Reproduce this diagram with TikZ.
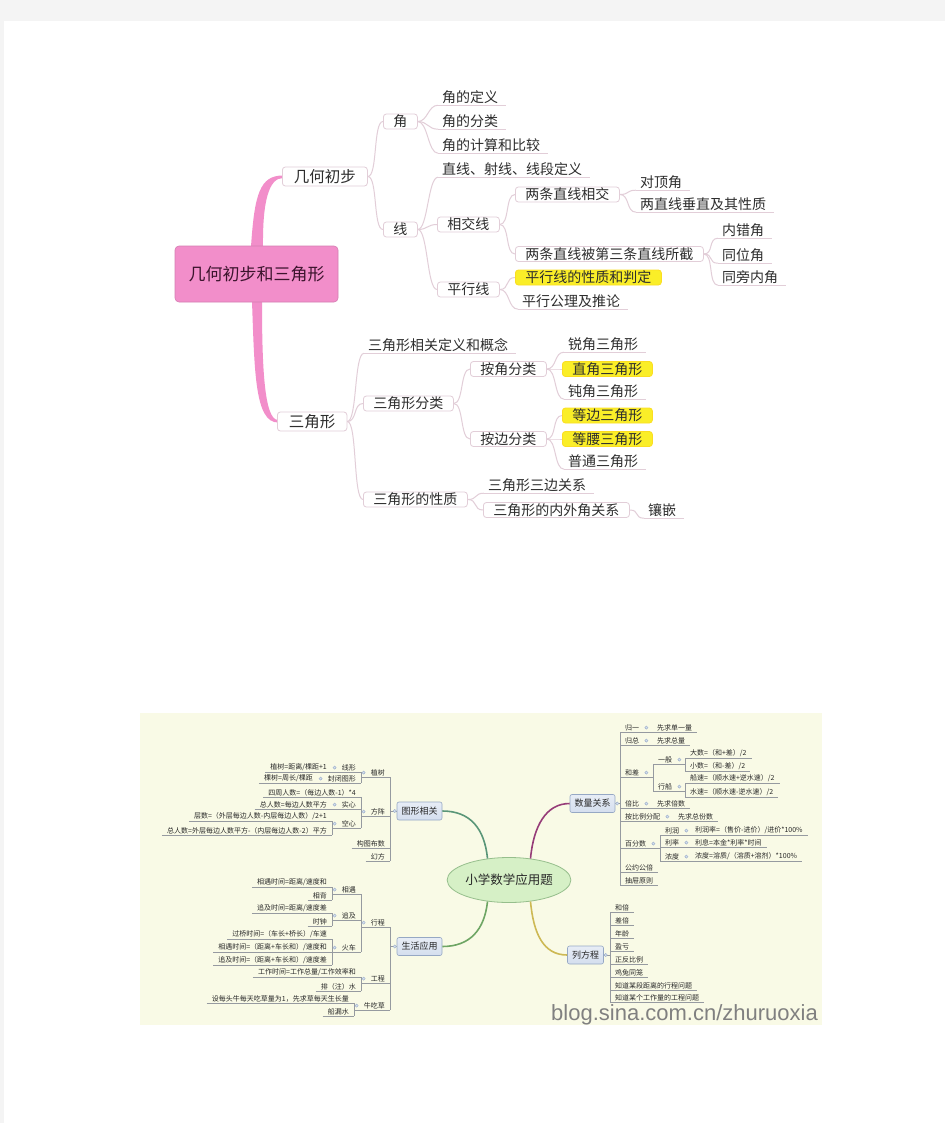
\documentclass[tikz,border=0pt]{standalone}
\usepackage{fontspec}
\setmainfont{Noto Sans CJK SC}
\newfontfamily\wmfont{Liberation Sans}
\usetikzlibrary{shapes.geometric,calc}

\definecolor{pagegray}{RGB}{244,244,244}
\definecolor{linkpink}{RGB}{226,206,216}
\definecolor{rootpink}{RGB}{242,142,202}
\definecolor{roottext}{RGB}{60,20,45}
\definecolor{hlyellow}{RGB}{250,238,40}
\definecolor{inktop}{RGB}{45,45,45}
\definecolor{cream}{RGB}{249,250,230}
\definecolor{hubgreen}{RGB}{214,240,198}
\definecolor{hubline}{RGB}{150,190,140}
\definecolor{boxblue}{RGB}{212,222,238}
\definecolor{boxline}{RGB}{150,168,196}
\definecolor{treegray}{RGB}{150,154,160}
\definecolor{knobfill}{RGB}{214,224,238}
\definecolor{knobline}{RGB}{150,170,200}
\definecolor{brteal}{RGB}{90,150,120}
\definecolor{brpurple}{RGB}{150,60,120}
\definecolor{brgreen}{RGB}{110,165,100}
\definecolor{brolive}{RGB}{205,185,85}
\definecolor{notetext}{RGB}{40,40,40}

\pgfdeclarelayer{paper}
\pgfdeclarelayer{background}
\pgfsetlayers{paper,background,main}

\tikzset{
  lnk/.style={draw=linkpink, line width=1pt},
  sbend/.style={to path={.. controls +(10,0) and +(-10,0) .. (\tikztotarget)}},
  rootbox/.style={draw=rootpink!88!black, fill=rootpink, rounded corners=4pt, line width=0.6pt,
    minimum width=163pt, minimum height=56pt, font=\fontsize{17}{20}\selectfont, text=roottext},
  tbox/.style={draw=linkpink, fill=white, rounded corners=3pt, line width=0.8pt,
    font=\fontsize{14}{16}\selectfont, text=inktop, inner xsep=10pt, inner ysep=0.5pt,
    minimum height=15pt, anchor=west},
  hbox/.style={tbox, fill=hlyellow, draw=hlyellow!85!orange},
  midbox/.style={tbox, font=\fontsize{15.5}{18}\selectfont, inner xsep=11.5pt, minimum height=19pt},
  leafnote/.style={font=\fontsize{14}{16}\selectfont, text=inktop, inner xsep=4pt, inner ysep=1.5pt,
    anchor=west, append after command={(\tikzlastnode.south west) edge[lnk] ([xshift=4pt]\tikzlastnode.south east)}},
  hubnode/.style={ellipse, draw=hubline, fill=hubgreen, line width=0.8pt, minimum width=122pt,
    minimum height=45pt, inner sep=0pt, font=\fontsize{12.5}{14}\selectfont, text=notetext},
  bbox/.style={draw=boxline, top color=white!45!boxblue, bottom color=boxblue, rounded corners=2pt,
    line width=0.6pt, font=\fontsize{9}{11}\selectfont, text=notetext, inner xsep=4.5pt,
    inner ysep=0pt, minimum height=18pt},
  mainbranch/.style={line width=1.6pt},
  treeline/.style={draw=treegray, line width=0.6pt},
  bnote/.style={font=\fontsize{7}{8}\selectfont, text=notetext, inner xsep=5pt, inner ysep=1pt},
  lnote/.style={bnote, anchor=south east,
    append after command={(\tikzlastnode.south west) edge[treeline] (\tikzlastnode.south east)}},
  rnote/.style={bnote, anchor=south west,
    append after command={(\tikzlastnode.south west) edge[treeline] (\tikzlastnode.south east)}},
  knob/.style={draw=knobline, fill=knobfill, line width=0.4pt},
  wmark/.style={font=\wmfont\fontsize{22}{24}\selectfont, text=gray, inner sep=0pt}
}

\begin{document}
\begin{tikzpicture}[x=1pt,y=-1pt]
\useasboundingbox (0,0) rectangle (945,1123);
\begin{pgfonlayer}{paper}
\fill[pagegray] (0,0) rectangle (945,1123);
\fill[white] (4,21) rectangle (945,1123);
\fill[cream] (140,713) rectangle (822,1025);
\end{pgfonlayer}

% ---------- 几何初步和三角形 ----------
\node[rootbox] (root) at (256.5,274) {几何初步和三角形};
\node[midbox] (geo) at (282,176.5) {几何初步};
\node[midbox] (tri) at (277,421.5) {三角形};

% 几何初步
\node[tbox] (jiao) at (383,121.5) {角};
\node[tbox] (xian) at (383,229.5) {线};
\node[leafnote] (jdy) at (438,97) {角的定义};
\node[leafnote] (jfl) at (438,121) {角的分类};
\node[leafnote] (jjs) at (438,145) {角的计算和比较};
\node[leafnote] (zxdy) at (438,169) {直线、射线、线段定义};
\node[tbox] (xjx) at (437,224.5) {相交线};
\node[tbox] (pxx) at (437,289.5) {平行线};
\node[tbox] (lzxj) at (515,194.5) {两条直线相交};
\node[tbox] (lzbj) at (515,254) {两条直线被第三条直线所截};
\node[hbox] (pxxz) at (515,277.5) {平行线的性质和判定};
\node[leafnote] (pxgl) at (518,301) {平行公理及推论};
\node[leafnote] (ddj) at (636,182) {对顶角};
\node[leafnote] (czxz) at (636,204) {两直线垂直及其性质};
\node[leafnote] (ncj) at (718,230) {内错角};
\node[leafnote] (twj) at (718,255) {同位角};
\node[leafnote] (tpnj) at (718,277) {同旁内角};

% 三角形
\node[leafnote] (sjdy) at (364,345) {三角形相关定义和概念};
\node[tbox] (sjfl) at (363,403.5) {三角形分类};
\node[tbox] (sjxz) at (363,499.5) {三角形的性质};
\node[tbox] (ajfl) at (470,369) {按角分类};
\node[tbox] (abfl) at (470,439) {按边分类};
\node[leafnote] (rjsj) at (564,344) {锐角三角形};
\node[hbox] (zjsj) at (562,369) {直角三角形};
\node[leafnote] (djsj) at (564,391) {钝角三角形};
\node[hbox] (dbsj) at (562,415.5) {等边三角形};
\node[hbox] (dysj) at (562,439) {等腰三角形};
\node[leafnote] (ptsj) at (564,461) {普通三角形};
\node[leafnote] (sbgx) at (484,485) {三角形三边关系};
\node[tbox] (nwj) at (483,510) {三角形的内外角关系};
\node[leafnote] (xq) at (644,510) {镶嵌};

\begin{pgfonlayer}{background}
% pink spine
\fill[rootpink] ($(root.north)+(-5.5,1)$) .. controls ($(root.north)+(-2,-52)$) and ($(geo.west)+(-22,-1)$) .. ($(geo.west)+(1,-1)$)
  -- ($(geo.west)+(1,1.5)$) .. controls ($(geo.west)+(-13,1.5)$) and ($(root.north)+(6,-45)$) .. ($(root.north)+(6.5,1)$) -- cycle;
\fill[rootpink] ($(root.south)+(-4.5,-1)$) .. controls ($(root.south)+(-2,70)$) and ($(tri.west)+(-22,1)$) .. ($(tri.west)+(1,1)$)
  -- ($(tri.west)+(1,-1.5)$) .. controls ($(tri.west)+(-13,-1.5)$) and ($(root.south)+(5.5,62)$) .. ($(root.south)+(5.5,-1)$) -- cycle;
\foreach \a/\b in {geo/jiao.west, geo/xian.west, jiao/jdy.south west, jiao/jfl.south west,
  jiao/jjs.south west, xian/zxdy.south west, xian/xjx.west, xian/pxx.west, xjx/lzxj.west,
  xjx/lzbj.west, lzxj/ddj.south west, lzxj/czxz.south west, lzbj/ncj.south west,
  lzbj/twj.south west, lzbj/tpnj.south west, pxx/pxxz.west, pxx/pxgl.south west,
  tri/sjdy.south west, tri/sjfl.west, tri/sjxz.west, sjfl/ajfl.west, sjfl/abfl.west,
  ajfl/rjsj.south west, ajfl/zjsj.west, ajfl/djsj.south west, abfl/dbsj.west,
  abfl/dysj.west, abfl/ptsj.south west, sjxz/sbgx.south west, sjxz/nwj.west, nwj/xq.south west}
  \draw[lnk] (\a.east) to[sbend] (\b);
\end{pgfonlayer}

% ---------- 小学数学应用题 ----------
\node[hubnode] (hub) at (509,880) {小学数学应用题};
\node[bbox] (txxg) at (419.5,811) {图形相关};
\node[bbox] (slgx) at (592.5,803.5) {数量关系};
\node[bbox] (shyy) at (419.5,946.5) {生活应用};
\node[bbox] (lfc) at (585.5,955) {列方程};

\draw[mainbranch, brteal] (hub.135) .. controls +(-3,-30) and +(28,0) .. (txxg.east);
\draw[mainbranch, brpurple] (hub.45) .. controls +(3,-32) and +(-24,0) .. (slgx.west);
\draw[mainbranch, brgreen] (hub.225) .. controls +(-3,28) and +(28,0) .. (shyy.east);
\draw[mainbranch, brolive] (hub.315) .. controls +(3,32) and +(-24,0) .. (lfc.west);

% 图形相关
\node[lnote] (zs) at (390,777) {植树};
\node[lnote] (fz) at (390,816) {方阵};
\node[lnote] (gtbs) at (390,848) {构图布数};
\node[lnote] (hf) at (390,861) {幻方};
\node[lnote] (xx) at (361,772) {线形};
\node[lnote] (fbtx) at (361,783) {封闭图形};
\node[lnote] (xxgs) at (332,772) {植树=距离/棵距+1};
\node[lnote] (fbgs) at (318,783) {棵树=周长/棵距};
\node[lnote] (szrs) at (361,797) {四周人数=（每边人数-1）*4};
\node[lnote] (sx) at (361,809) {实心};
\node[lnote] (kx) at (361,828) {空心};
\node[lnote] (sxgs) at (332,809) {总人数=每边人数平方};
\node[lnote] (kxcs) at (332,821) {层数=（外层每边人数-内层每边人数）/2+1};
\node[lnote] (kxzs) at (332,835) {总人数=外层每边人数平方-（内层每边人数-2）平方};

% 生活应用
\node[lnote] (xc) at (390,927) {行程};
\node[lnote] (gc) at (390,983) {工程};
\node[lnote] (ncc) at (390,1010) {牛吃草};
\node[lnote] (xy) at (361,894) {相遇};
\node[lnote] (zhj) at (361,920) {追及};
\node[lnote] (hch) at (361,952) {火车};
\node[lnote] (xygs) at (332,887) {相遇时间=距离/速度和};
\node[lnote] (xb) at (332,900) {相背};
\node[lnote] (zjgs) at (332,913) {追及时间=距离/速度差};
\node[lnote] (sz) at (332,926) {时钟};
\node[lnote] (gqgs) at (332,939) {过桥时间=（车长+桥长）/车速};
\node[lnote] (hxgs) at (332,952) {相遇时间=（距离+车长和）/速度和};
\node[lnote] (hzgs) at (332,965) {追及时间=（距离+车长和）/速度差};
\node[lnote] (gzgs) at (361,977) {工作时间=工作总量/工作效率和};
\node[lnote] (pzs) at (361,991) {排（注）水};
\node[lnote] (nccgs) at (354,1003) {设每头牛每天吃草量为1，先求草每天生长量};
\node[lnote] (clsh) at (354,1016) {船漏水};

% 数量关系
\node[rnote] (gy) at (620,732) {归一};
\node[rnote] (gz) at (620,745) {归总};
\node[rnote] (hcha) at (620,777) {和差};
\node[rnote] (bb) at (620,808) {倍比};
\node[rnote] (abl) at (620,821) {按比例分配};
\node[rnote] (bfs) at (620,848) {百分数};
\node[rnote] (gygb) at (620,872) {公约公倍};
\node[rnote] (ctyz) at (620,885) {抽屉原则};
\node[rnote] (dyl) at (652,732) {先求单一量};
\node[rnote] (zl) at (652,745) {先求总量};
\node[rnote] (yb) at (653,764) {一般};
\node[rnote] (xch) at (653,791) {行船};
\node[rnote] (ds) at (685,758) {大数=（和+差）/2};
\node[rnote] (xs) at (685,771) {小数=（和-差）/2};
\node[rnote] (cs) at (685,783) {船速=（顺水速+逆水速）/2};
\node[rnote] (ss) at (685,797) {水速=（顺水速-逆水速）/2};
\node[rnote] (bs) at (652,808) {先求倍数};
\node[rnote] (fs) at (673,821) {先求总份数};
\node[rnote] (lr) at (660,835) {利润};
\node[rnote] (ll) at (660,847) {利率};
\node[rnote] (nd) at (660,861) {浓度};
\node[rnote] (lrgs) at (690,835) {利润率=（售价-进价）/进价*100\%};
\node[rnote] (ligs) at (690,847) {利息=本金*利率*时间};
\node[rnote] (ndgs) at (690,861) {浓度=溶质/（溶质+溶剂）*100\%};

% 列方程
\node[rnote] (hb) at (610,912) {和倍};
\node[rnote] (cb) at (610,925) {差倍};
\node[rnote] (nl) at (610,938) {年龄};
\node[rnote] (yk) at (610,951) {盈亏};
\node[rnote] (zfbl) at (610,964) {正反比例};
\node[rnote] (jttl) at (610,977) {鸡兔同笼};
\node[rnote] (xcwt) at (610,990) {知道某段距离的行程问题};
\node[rnote] (gcwt) at (610,1002) {知道某个工作量的工程问题};

\begin{pgfonlayer}{background}
\foreach \c in {zs,fz,gtbs,hf} \draw[treeline] (txxg.west) -| (\c.south east);
\foreach \c in {xc,gc,ncc} \draw[treeline] (shyy.west) -| (\c.south east);
\foreach \p/\c in {zs/xx, zs/fbtx, xx/xxgs, fbtx/fbgs, fz/szrs, fz/sx, fz/kx, sx/sxgs,
  kx/kxcs, kx/kxzs, xc/xy, xc/zhj, xc/hch, xy/xygs, xy/xb, zhj/zjgs, zhj/sz, hch/gqgs,
  hch/hxgs, hch/hzgs, gc/gzgs, gc/pzs, ncc/nccgs, ncc/clsh}
  \draw[treeline] (\p.south west) -| (\c.south east);
\foreach \c in {gy,gz,hcha,bb,abl,bfs,gygb,ctyz} \draw[treeline] (slgx.east) -| (\c.south west);
\foreach \c in {hb,cb,nl,yk,zfbl,jttl,xcwt,gcwt} \draw[treeline] (lfc.east) -| (\c.south west);
\foreach \p/\c in {gy/dyl, gz/zl, hcha/yb, hcha/xch, yb/ds, yb/xs, xch/cs, xch/ss, bb/bs,
  abl/fs, bfs/lr, bfs/ll, bfs/nd, lr/lrgs, ll/ligs, nd/ndgs}
  \draw[treeline] (\p.south east) -| (\c.south west);
\end{pgfonlayer}

% collapse knobs
\foreach \k in {txxg,shyy,zs,fz,xx,fbtx,sx,kx,xc,gc,ncc,xy,zhj,hch}
  \filldraw[knob] ([xshift=-2pt]\k.west) circle (1.6pt);
\foreach \k in {slgx,lfc,gy,gz,hcha,yb,xch,bb,abl,bfs,lr,ll,nd}
  \filldraw[knob] ([xshift=2pt]\k.east) circle (1.6pt);

\node[wmark, anchor=west] (wm) at (551,1015) {blog.sina.com.cn/zhuruoxia};
\end{tikzpicture}
\end{document}
